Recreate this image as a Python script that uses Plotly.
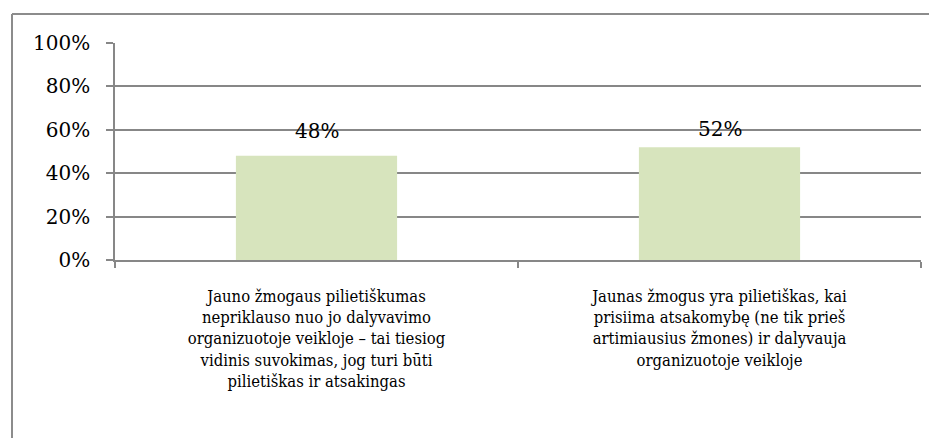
import plotly.graph_objects as go

categories = [
    "Jauno žmogaus pilietiškumas<br>nepriklauso nuo jo dalyvavimo<br>organizuotoje veikloje – tai tiesiog<br>vidinis suvokimas, jog turi būti<br>pilietiškas ir atsakingas",
    "Jaunas žmogus yra pilietiškas, kai<br>prisiima atsakomybę (ne tik prieš<br>artimiausius žmones) ir dalyvauja<br>organizuotoje veikloje",
]
values = [0.48, 0.52]
value_labels = ["48%", "52%"]
y_tick_values = [0, 0.2, 0.4, 0.6, 0.8, 1.0]
y_tick_labels = ["0%", "20%", "40%", "60%", "80%", "100%"]

FONT = "DejaVu Serif"
FONT_NARROW = "DejaVu Serif Condensed"
GRID = "#878787"

W, H = 929, 430
ML, MT, MR, MB = 107, 35, 16, 178
PW = W - ML - MR
PH = H - MT - MB

def px_to_paper_x(px):
    return (px - 8 - ML) / PW

def px_to_paper_y(py):
    return 1 - (py - 8 - MT) / PH

fig = go.Figure()
fig.add_trace(go.Bar(
    x=categories, y=values,
    marker=dict(color="#d7e4bd", line=dict(width=0)),
    hoverinfo="skip",
))

label_shifts = [25, 18]
for cat, v, lab, sh in zip(categories, values, value_labels, label_shifts):
    fig.add_annotation(x=cat, y=v, text=lab, showarrow=False, yanchor="middle",
                       yshift=sh, font=dict(family=FONT, size=20, color="black"))

fig.add_shape(type="line", xref="paper", yref="paper",
              x0=px_to_paper_x(12), x1=px_to_paper_x(940),
              y0=px_to_paper_y(14), y1=px_to_paper_y(14),
              line=dict(color="#8c8c8c", width=2))
fig.add_shape(type="line", xref="paper", yref="paper",
              x0=px_to_paper_x(12), x1=px_to_paper_x(12),
              y0=px_to_paper_y(14), y1=px_to_paper_y(445),
              line=dict(color="#8c8c8c", width=2))

fig.update_layout(
    width=W, height=H,
    margin=dict(l=ML, r=MR, t=MT, b=MB),
    paper_bgcolor="white", plot_bgcolor="white",
    bargap=0.6,
    showlegend=False,
    font=dict(family=FONT, color="black"),
    xaxis=dict(
        showline=True, linecolor=GRID, linewidth=1.5,
        ticks="outside", tickson="boundaries", ticklen=6, tickcolor=GRID, tickwidth=1.5,
        tickfont=dict(family=FONT_NARROW, size=16.5, color="black"),
        ticklabelstandoff=20,
        showgrid=False,
    ),
    yaxis=dict(
        range=[0, 1], tickvals=y_tick_values, ticktext=y_tick_labels,
        showline=True, linecolor=GRID, linewidth=1.5,
        ticks="outside", ticklen=7, tickcolor=GRID, tickwidth=1.5,
        showgrid=True, gridcolor=GRID, gridwidth=1.5,
        tickfont=dict(family=FONT, size=20, color="black"),
        ticklabelstandoff=12,
        zeroline=False,
    ),
)

fig.write_html("out.html")
